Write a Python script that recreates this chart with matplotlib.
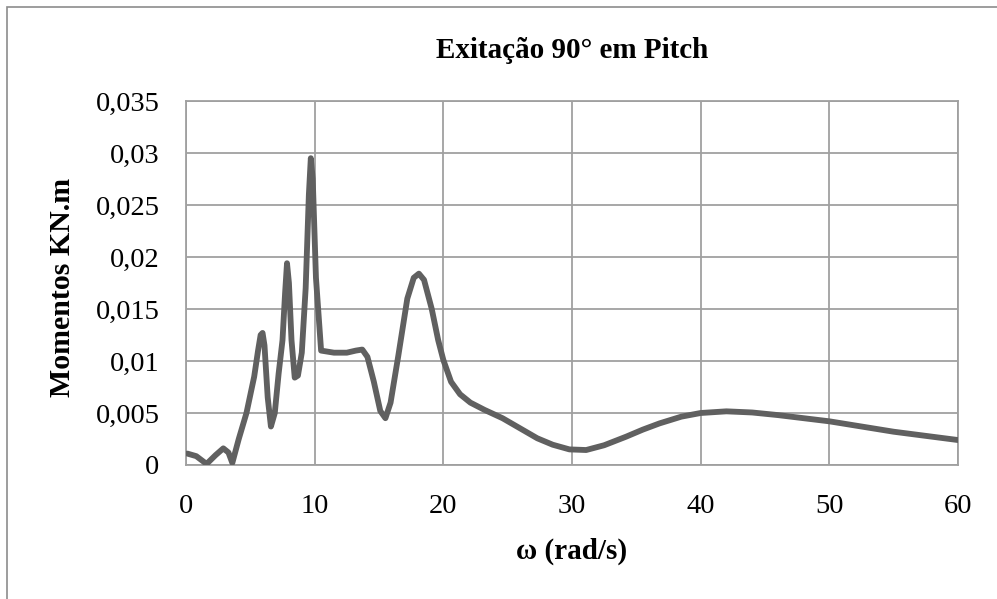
import numpy as np
import matplotlib.pyplot as plt
from matplotlib.patches import Rectangle
from matplotlib.ticker import FuncFormatter

plt.rcParams["font.family"] = ["Liberation Serif", "DejaVu Serif"]

# values
omega = [0.1, 0.8, 1.6, 2.3, 2.9, 3.3, 3.6, 4.1, 4.7, 5.3, 5.6, 5.8, 5.95, 6.1, 6.35, 6.6,
         6.9, 7.2, 7.5, 7.7, 7.85, 8.0, 8.2, 8.45, 8.7, 9.0, 9.3, 9.55, 9.7, 9.85,
         10.1, 10.5, 11.5, 12.5, 13.2, 13.7, 14.1, 14.6, 15.1, 15.5, 15.9, 16.5,
         17.2, 17.7, 18.1, 18.5, 19.1, 19.6, 20.0, 20.6, 21.3, 22.1, 23.2, 24.6,
         26.0, 27.3, 28.5, 29.8, 31.1, 32.5, 34.2, 35.5, 36.8, 38.5, 40.0, 42.0,
         44.0, 46.0, 50.0, 55.0, 60.0]
moment = [0.00110, 0.00085, 0.00010, 0.00095, 0.00160, 0.00120, 0.00020, 0.00250,
          0.00500, 0.00850, 0.01100, 0.01250, 0.01270, 0.01150, 0.00650, 0.00370, 0.00500,
          0.00880, 0.01200, 0.01650, 0.01940, 0.01750, 0.01200, 0.00840, 0.00860,
          0.01080, 0.01700, 0.02600, 0.02950, 0.02750, 0.01800, 0.01100, 0.01080,
          0.01080, 0.01100, 0.01110, 0.01040, 0.00800, 0.00520, 0.00450, 0.00600,
          0.01050, 0.01600, 0.01800, 0.01840, 0.01780, 0.01500, 0.01200, 0.01010,
          0.00800, 0.00680, 0.00600, 0.00530, 0.00450, 0.00350, 0.00257, 0.00195,
          0.00150, 0.00144, 0.00190, 0.00272, 0.00340, 0.00400, 0.00465, 0.00500,
          0.00516, 0.00505, 0.00480, 0.00420, 0.00320, 0.00240]

x_ticks = [0, 10, 20, 30, 40, 50, 60]
y_ticks = [0, 0.005, 0.01, 0.015, 0.02, 0.025, 0.03, 0.035]

W, H = 997, 599
fig = plt.figure(figsize=(W / 100, H / 100), dpi=100)
ax = fig.add_axes([186 / W, 1 - 465 / H, 772 / W, 364 / H])

# outer chart frame
fig.patches.append(Rectangle((7 / W, -0.1), 1.2, 1 - 7 / H + 0.1,
                             transform=fig.transFigure, fill=False,
                             edgecolor="#8c8c8c", linewidth=1.2))

ax.plot(omega, moment, color="#606060", linewidth=4.2, solid_joinstyle="round",
        solid_capstyle="round", zorder=3)

ax.set_xlim(0, 60)
ax.set_ylim(0, 0.035)
ax.set_xticks(x_ticks)
ax.set_yticks(y_ticks)
ax.yaxis.set_major_formatter(FuncFormatter(
    lambda v, p: "0" if v == 0 else f"{v:.3f}".rstrip("0").replace(".", ",")))
ax.tick_params(length=0, labelsize=20.5)
ax.tick_params(axis="y", pad=19)
ax.tick_params(axis="x", pad=21)
ax.grid(True, color="#a0a0a0", linewidth=1.3)
ax.set_axisbelow(True)
for s in ax.spines.values():
    s.set_color("#a0a0a0")
    s.set_linewidth(1.3)

fig.text(0.5 * (186 + 958) / W, 1 - 51 / H, "Exitação 90° em Pitch",
         fontsize=21, fontweight="bold", ha="center", va="center")
fig.text(0.5 * (186 + 958) / W, 1 - 551 / H, "ω (rad/s)",
         fontsize=21, fontweight="bold", ha="center", va="center")
fig.text(63 / W, 1 - 287 / H, "Momentos KN.m", rotation=90,
         fontsize=21.5, fontweight="bold", ha="center", va="center")

fig.savefig("out.png", dpi=100)
